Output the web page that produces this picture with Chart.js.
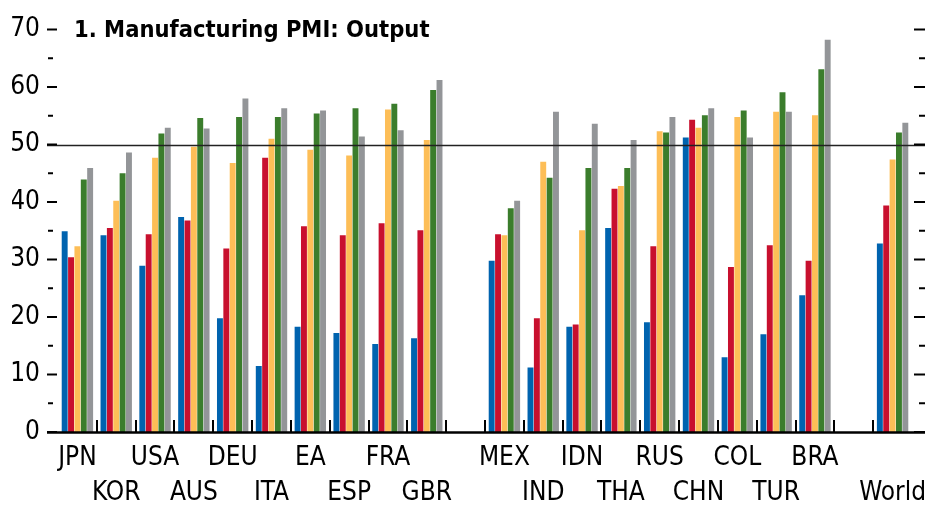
<!DOCTYPE html>
<html>
<head>
<meta charset="utf-8">
<script src="https://cdn.jsdelivr.net/npm/chart.js@4.4.1/dist/chart.umd.min.js"></script>
<style>
  html, body { margin: 0; padding: 0; background: #fff; }
  #wrap { width: 925px; height: 506px; position: relative; }
</style>
</head>
<body>
<div id="wrap"><canvas id="pmi-chart"></canvas></div>
<script>
// Data (empty strings are the gaps between country groups)
const categories = ['JPN', 'KOR', 'USA', 'AUS', 'DEU', 'ITA', 'EA', 'ESP', 'FRA', 'GBR', '',
  'MEX', 'IND', 'IDN', 'THA', 'RUS', 'CHN', 'COL', 'TUR', 'BRA', '', 'World'];

const series1 = [34.9, 34.2, 28.9, 37.4, 19.8, 11.5, 18.3, 17.2, 15.3, 16.3, null,
  29.8, 11.2, 18.3, 35.5, 19.1, 51.2, 13.0, 17.0, 23.8, null, 32.8];
const series2 = [30.4, 35.5, 34.4, 36.8, 31.9, 47.7, 35.8, 34.2, 36.3, 35.1, null,
  34.4, 19.8, 18.7, 42.3, 32.3, 54.3, 28.7, 32.5, 29.8, null, 39.4];
const series3 = [32.3, 40.2, 47.7, 49.6, 46.8, 51.0, 49.1, 48.1, 56.1, 50.8, null,
  34.2, 47.0, 35.1, 42.8, 52.3, 52.9, 54.8, 55.7, 55.1, null, 47.4];
const series4 = [43.9, 45.0, 51.9, 54.6, 54.8, 54.8, 55.4, 56.3, 57.1, 59.5, null,
  38.9, 44.2, 45.9, 45.9, 52.1, 55.1, 55.9, 59.1, 63.1, null, 52.1];
const series5 = [45.9, 48.6, 52.9, 52.8, 58.0, 56.3, 55.9, 51.4, 52.5, 61.2, null,
  40.2, 55.7, 53.6, 50.8, 54.8, 56.3, 51.2, 55.7, 68.2, null, 53.8];

const yTicks = [0, 10, 20, 30, 40, 50, 60, 70];
const yMinorTicks = [5, 15, 25, 35, 45, 55, 65];
const threshold = 50;
const title = '1. Manufacturing PMI: Output';

const FONT = '"DejaVu Sans Condensed", "Liberation Sans Narrow", sans-serif';

// which label row a category goes on: alternate among the non-empty ones
const labelRows = (() => {
  let n = 0;
  return categories.map(c => (c === '' ? 0 : (n++ % 2)));
})();

const line = (ctx, x1, y1, x2, y2, w, color) => {
  ctx.beginPath();
  ctx.lineWidth = w;
  ctx.strokeStyle = color;
  ctx.moveTo(x1, y1);
  ctx.lineTo(x2, y2);
  ctx.stroke();
};

const decorations = {
  id: 'decorations',
  afterDatasetsDraw(chart) {
    const { ctx, scales: { x, y } } = chart;
    const left = 47, right = 925;
    ctx.save();
    // 50 line
    const y50 = Math.round(y.getPixelForValue(threshold)) + 0.5;
    line(ctx, left, y50, right, y50, 1.3, '#222');
    // baseline
    const y0 = y.getPixelForValue(0);
    line(ctx, left, y0 + 0.5, right, y0 + 0.5, 2.5, '#000');
    // boundary ticks between categories
    for (let i = 0; i < categories.length - 1; i++) {
      const bx = Math.round((x.getPixelForTick(i) + x.getPixelForTick(i + 1)) / 2);
      line(ctx, bx, y0, bx, y0 - 12, 2, '#000');
    }
    // y ticks, both sides
    yTicks.forEach(v => {
      const py = y.getPixelForValue(v);
      line(ctx, 47, py, 57, py, 2, '#000');
      line(ctx, 914, py, 925, py, 2, '#000');
    });
    yMinorTicks.forEach(v => {
      const py = y.getPixelForValue(v);
      line(ctx, 48, py, 53, py, 2, '#000');
      line(ctx, 919, py, 925, py, 2, '#000');
    });
    // title
    ctx.fillStyle = '#000';
    ctx.font = 'bold 23.5px ' + FONT;
    ctx.textAlign = 'left';
    ctx.textBaseline = 'alphabetic';
    ctx.fillText(title, 74, 37);
    ctx.restore();
  }
};

const colors = ['#0063AF', '#C8102E', '#FDBE57', '#3B7D2C', '#939598'];
const seriesList = [series1, series2, series3, series4, series5];

new Chart(document.getElementById('pmi-chart'), {
  type: 'bar',
  data: {
    labels: categories,
    datasets: seriesList.map((s, i) => ({
      label: 'Series ' + (i + 1),
      data: s,
      backgroundColor: colors[i],
      borderWidth: 0,
      categoryPercentage: 0.82,
      barPercentage: 0.93
    }))
  },
  options: {
    responsive: true,
    maintainAspectRatio: false,
    animation: false,
    layout: { padding: { left: 12, right: 13, top: 29.5, bottom: 0 } },
    plugins: {
      legend: { display: false },
      tooltip: { enabled: false }
    },
    scales: {
      x: {
        grid: { display: false, drawTicks: false },
        border: { display: false },
        afterFit: (scale) => {
          scale.height = 74;
          scale.paddingLeft = 0;
          scale.paddingRight = 0;
        },
        ticks: {
          autoSkip: false,
          maxRotation: 0,
          padding: 9,
          color: '#000',
          font: { family: FONT, size: 26, lineHeight: 1.35 },
          callback: (value, index) => {
            const c = categories[index];
            return labelRows[index] ? ['', c] : c;
          }
        }
      },
      y: {
        min: 0,
        max: 70,
        grid: { display: false, drawTicks: false },
        border: { display: false },
        afterFit: (scale) => {
          scale.width = 46;
          scale.paddingTop = 0;
          scale.paddingBottom = 0;
        },
        afterBuildTicks: (scale) => { scale.ticks = yTicks.map(v => ({ value: v })); },
        ticks: {
          padding: 18,
          color: '#000',
          font: { family: FONT, size: 26 }
        }
      }
    }
  },
  plugins: [decorations]
});
</script>
</body>
</html>
